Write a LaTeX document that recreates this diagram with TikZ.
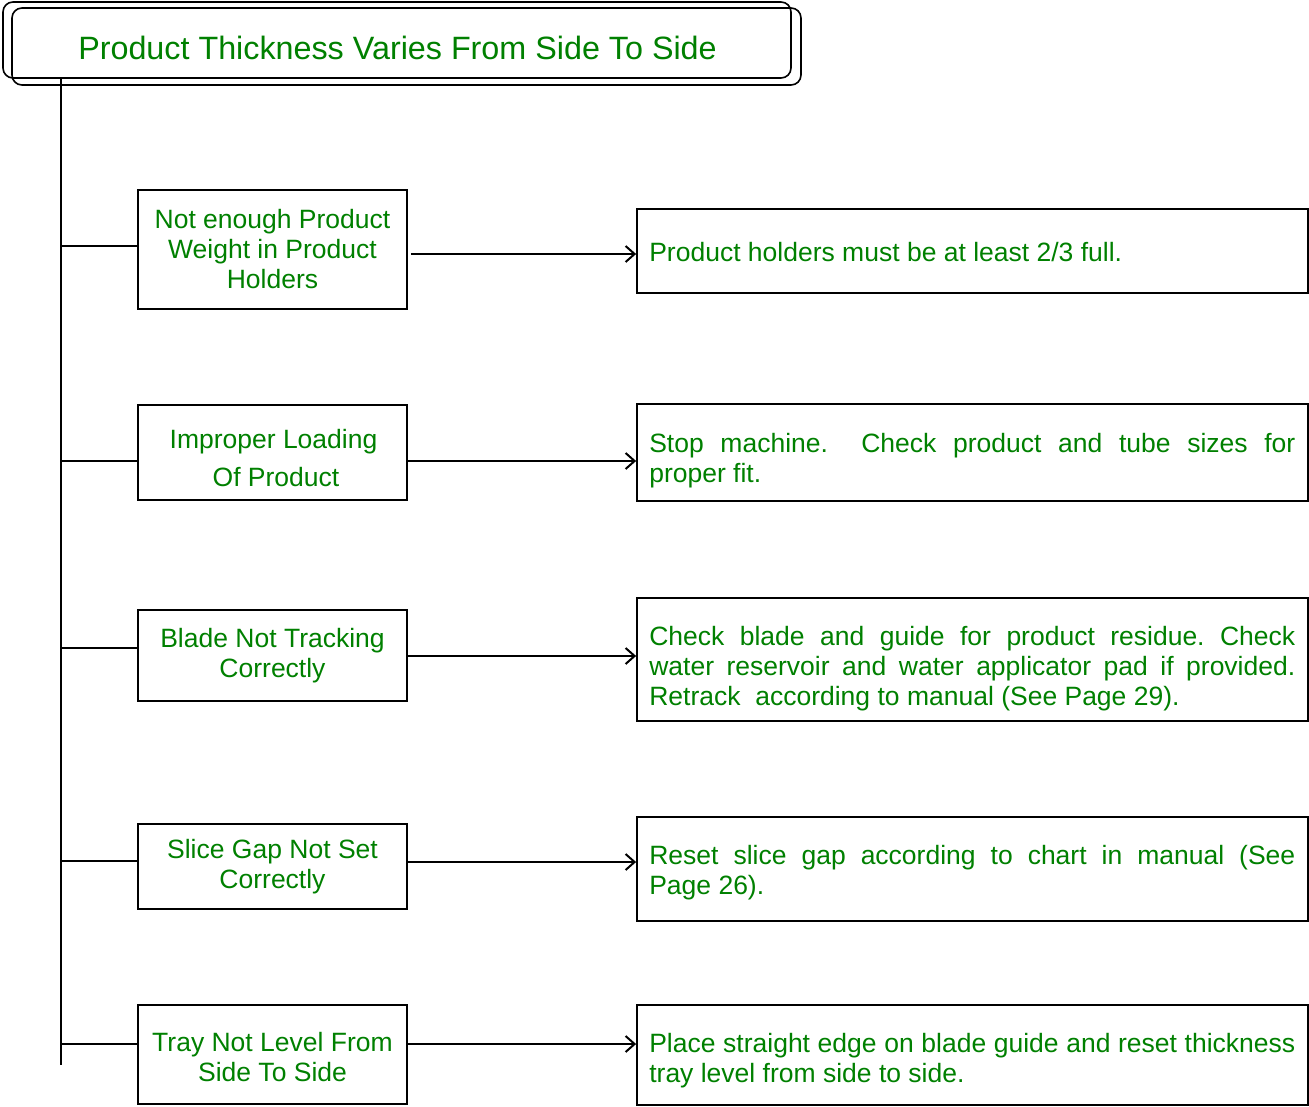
\documentclass[tikz,border=0pt]{standalone}
\usepackage{fontspec}
\setmainfont{Liberation Sans}
\usetikzlibrary{arrows.meta}
\definecolor{causegreen}{RGB}{0,128,0}
\tikzset{
  frame/.style={draw=black, line width=1.8pt, inner sep=0pt},
  causebox/.style={frame, minimum width=269pt, align=center, text=causegreen,
    font=\fontsize{26.5}{30}\selectfont},
  remedybox/.style={frame, minimum width=671pt},
  remedytext/.style={inner sep=0pt, text width=646pt, align=justify, text=causegreen,
    font=\fontsize{26.5}{30}\selectfont\frenchspacing},
  link/.style={line width=2pt},
  pointer/.style={link, -{Straight Barb[length=9pt,width=16pt,line width=2pt]}},
  titlebox/.style={draw=black, line width=1.6pt, rounded corners=10pt, inner sep=0pt}
}
\begin{document}
\begin{tikzpicture}[x=1pt,y=-1pt]
\useasboundingbox (0,0) rectangle (1309,1106);

% heading with its doubled rounded frame
\node[titlebox, minimum width=788pt, minimum height=76pt] (headA) at (397,40) {};
\node[titlebox, minimum width=789pt, minimum height=77pt] (headB) at (406.5,46.5) {};
\node[text=causegreen, font=\fontsize{32.3}{36}\selectfont, inner sep=0pt] (title) at (397.5,47.5)
  {Product Thickness Varies From Side To Side};

% vertical trunk
\coordinate (trunktop) at (61,77);
\coordinate (trunkend) at (61,1065);
\draw[link] (trunktop) -- (trunkend);

% causes
\node[causebox, minimum height=119pt] (c1) at (272.5,249.5)
  {Not enough Product\\Weight in Product\\Holders};
\node[causebox, minimum height=95pt] (c2) at (272.5,452.5) {};
\node[text=causegreen, font=\fontsize{26.5}{30}\selectfont, align=center, inner sep=0pt]
  (c2text) at (273.5,458) {Improper Loading\\[8pt]\hspace*{5pt}Of Product};
\node[causebox, minimum height=91pt] (c3) at (272.5,655.5)
  {Blade Not Tracking\\Correctly};
\node[causebox, minimum height=85pt] (c4) at (272.5,866.5)
  {Slice Gap Not Set\\Correctly};
\node[causebox, minimum height=99pt] (c5) at (272.5,1054.5)
  {\\[-6pt]Tray Not Level From\\Side To Side};

% remedies
\node[remedybox, minimum height=84pt] (r1) at (972.5,251) {};
\node[remedybox, minimum height=97pt] (r2) at (972.5,452.5) {};
\node[remedybox, minimum height=123pt] (r3) at (972.5,659.5) {};
\node[remedybox, minimum height=104pt] (r4) at (972.5,869) {};
\node[remedybox, minimum height=100pt] (r5) at (972.5,1055) {};

\node[remedytext, anchor=west] (r1text) at ([xshift=13pt,yshift=-1pt]r1.west)
  {Product holders must be at least 2/3 full.};
\node[remedytext, anchor=north west] (r2text) at ([xshift=13pt,yshift=-30pt]r2.north west)
  {Stop machine.\ \ Check product and tube sizes for\linebreak proper fit.};
\node[remedytext, anchor=north west] (r3text) at ([xshift=13pt,yshift=-29pt]r3.north west)
  {Check blade and guide for product residue. Check\linebreak
   water reservoir and water applicator pad if provided.\linebreak
   Retrack\ \ according to manual (See Page 29).};
\node[remedytext, anchor=north west] (r4text) at ([xshift=13pt,yshift=-29pt]r4.north west)
  {Reset slice gap according to chart in manual (See\linebreak Page 26).};
\node[remedytext, anchor=north west] (r5text) at ([xshift=13pt,yshift=-29pt]r5.north west)
  {Place straight edge on blade guide and reset thickness\linebreak tray level from side to side.};

% branches from the trunk into each cause
\draw[link] ([yshift=3.5pt]c1.west -| trunktop) -- ([yshift=3.5pt]c1.west);
\draw[link] ([yshift=-8.5pt]c2.west -| trunktop) -- ([yshift=-8.5pt]c2.west);
\draw[link] ([yshift=7.5pt]c3.west -| trunktop) -- ([yshift=7.5pt]c3.west);
\draw[link] ([yshift=5.5pt]c4.west -| trunktop) -- ([yshift=5.5pt]c4.west);
\draw[link] ([yshift=10.5pt]c5.west -| trunktop) -- ([yshift=10.5pt]c5.west);

% arrows from each cause to its remedy
\draw[pointer] ([xshift=3pt,yshift=-4.5pt]c1.east) -- ([yshift=-4.5pt]c1.east -| r1.west);
\draw[pointer] ([yshift=-8.5pt]c2.east) -- ([yshift=-8.5pt]c2.east -| r2.west);
\draw[pointer] ([yshift=-0.5pt]c3.east) -- ([yshift=-0.5pt]c3.east -| r3.west);
\draw[pointer] ([yshift=4.5pt]c4.east) -- ([yshift=4.5pt]c4.east -| r4.west);
\draw[pointer] ([yshift=10.5pt]c5.east) -- ([yshift=10.5pt]c5.east -| r5.west);
\end{tikzpicture}
\end{document}
